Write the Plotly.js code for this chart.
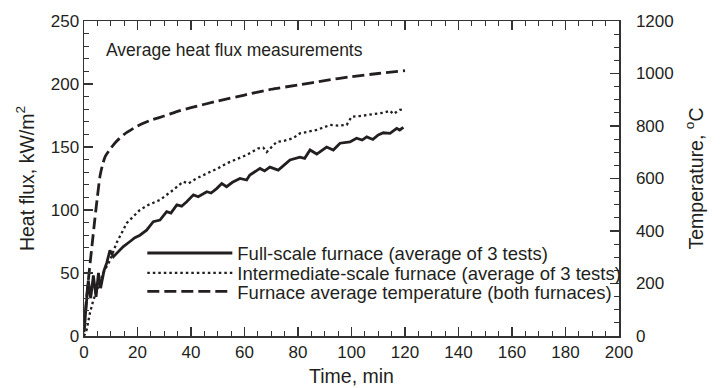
<!DOCTYPE html>
<html>
<head>
<meta charset="utf-8">
<script src="https://cdn.plot.ly/plotly-3.0.1.min.js"></script>
<style>html,body{margin:0;padding:0;background:#fff;}#chart{width:720px;height:388px;}</style>
</head>
<body>
<div id="chart"></div>
<script>
// Full-scale furnace heat flux (kW/m2) vs time (min)
const fullTime = [0,0.5,1,1.6,2.5,3.5,4.5,5.4,6.2,7.5,8.5,9.7,11,12.8,14.7,17.2,19,20.9,23.4,25.9,28.4,30.9,32.5,34.7,36.5,38.4,40.9,42.7,45.9,47.5,49.6,51.5,53.3,55.5,58.3,60.8,62,65.8,67.5,69.5,72.6,75,77,80.7,82.5,84.5,87,90.7,93.2,95.7,99.4,101.9,104,105.7,108,110,111.9,114.4,116.9,118,119.4];
const fullFlux = [3,15,28,44,30,48,31,50,38,52,58,68,63,67,71,75,78,80,84,90.7,92,98.7,97.5,104,103,106.6,112,110.5,114.5,113.5,117,121,118.5,122,125,123.8,127.8,133,131,134,131.7,136,139.7,142,141,147.6,144.4,150,147.6,153,154,157,155.5,158,156,159.5,161.3,160.8,164.8,163.5,165.6];
// Intermediate-scale furnace heat flux
const interTime = [0,1,2.2,3.5,5.4,7.2,9.7,12.2,16,20.9,24,28.4,33.4,37.1,39,42,45.9,50,53.3,57,60.8,65.2,67,68.3,72,75,78.2,80.7,84,87,92,95,98.2,100,103,105.7,109,111.9,114.4,115.6,118,119.5];
const interFlux = [0,5,18,28.6,39,50,60,74,89.7,100,104,108,116,122.5,121,125,129,133,137,140,143.7,149,149.5,146,154,155,157,160.8,162,163.5,167.5,167,167.5,174,174.5,175.4,176,177.2,178.8,176.2,179.4,179.8];
// Furnace average temperature (degC)
const tempTime = [0,1,2,3,4,5,6,7,8,10,12,15,20,25,30,35,40,50,60,70,80,90,100,110,120];
const tempVal  = [20,150,250,345,440,530,610,655,685,715,740,768,800,822,838,856,870,895,918,940,956,973,988,1000,1011];

const seriesNames = [
  'Full-scale furnace (average of 3 tests)',
  'Intermediate-scale furnace (average of 3 tests)',
  'Furnace average temperature (both furnaces)'
];
const FONT = 'Liberation Sans, Arial, sans-serif';
const INK = '#231f20';

const traces = [
  {x: fullTime, y: fullFlux, name: seriesNames[0], mode: 'lines', line: {color: INK, width: 2.8}, yaxis: 'y', legend: 'legend'},
  {x: interTime, y: interFlux, name: seriesNames[1], mode: 'lines', line: {color: INK, width: 2.3, dash: '2.5px,3px'}, yaxis: 'y', legend: 'legend2'},
  {x: tempTime, y: tempVal, name: seriesNames[2], mode: 'lines', line: {color: INK, width: 2.8, dash: '12px,5px', shape: 'spline', smoothing: 0.6}, yaxis: 'y2', legend: 'legend3'}
];

const axCommon = {
  showline: true, linecolor: '#333', linewidth: 1.5,
  ticks: 'inside', ticklen: 9, tickwidth: 1.3, tickcolor: '#333',
  showgrid: false, zeroline: false,
  tickfont: {family: FONT, size: 17, color: INK}
};
const titleFont = {family: FONT, size: 19.5, color: INK};
const legFont = {family: FONT, size: 18.5, color: INK};
const xMinor = {dtick: 5, ticks: 'inside', ticklen: 5, tickcolor: '#333', tickwidth: 1.2};
function leg(y) {
  return {x: 0.109, y: y, xanchor: 'left', yanchor: 'middle', bgcolor: 'rgba(0,0,0,0)',
          borderwidth: 0, font: legFont, itemwidth: 85};
}

const layout = {
  width: 720, height: 388,
  margin: {l: 84, r: 101, t: 21, b: 52},
  paper_bgcolor: '#fff', plot_bgcolor: '#fff',
  font: {family: FONT, color: INK},
  showlegend: true,
  legend: leg(0.262),
  legend2: leg(0.199),
  legend3: leg(0.140),
  xaxis: Object.assign({}, axCommon, {
    range: [0, 200], dtick: 20, tick0: 0, mirror: 'ticks',
    minor: xMinor,
    title: {text: 'Time, min', font: titleFont, standoff: 8}
  }),
  xaxis2: Object.assign({}, axCommon, {
    overlaying: 'x', side: 'top', anchor: 'y',
    range: [0, 200], dtick: 20, tick0: 0, showticklabels: false,
    minor: xMinor
  }),
  yaxis: Object.assign({}, axCommon, {
    range: [0, 250], dtick: 50, tick0: 0,
    minor: {dtick: 10, ticks: 'inside', ticklen: 5, tickcolor: '#333', tickwidth: 1.2},
    title: {text: 'Heat flux, kW/m<sup>2</sup>', font: titleFont, standoff: 11}
  }),
  yaxis2: Object.assign({}, axCommon, {
    overlaying: 'y', side: 'right',
    range: [0, 1200], dtick: 200, tick0: 0, ticklabelstandoff: 12,
    minor: {dtick: 50, ticks: 'inside', ticklen: 5, tickcolor: '#333', tickwidth: 1.2},
    title: {text: 'Temperature, <sup>o</sup>C', font: titleFont, standoff: 16}
  }),
  annotations: [{
    xref: 'x', yref: 'y', x: 7.5, y: 227, xanchor: 'left', yanchor: 'middle',
    text: 'Average heat flux measurements', showarrow: false,
    font: {family: FONT, size: 17.5, color: INK}
  }]
};

Plotly.newPlot('chart', traces, layout, {staticPlot: true, displayModeBar: false});
</script>
</body>
</html>
